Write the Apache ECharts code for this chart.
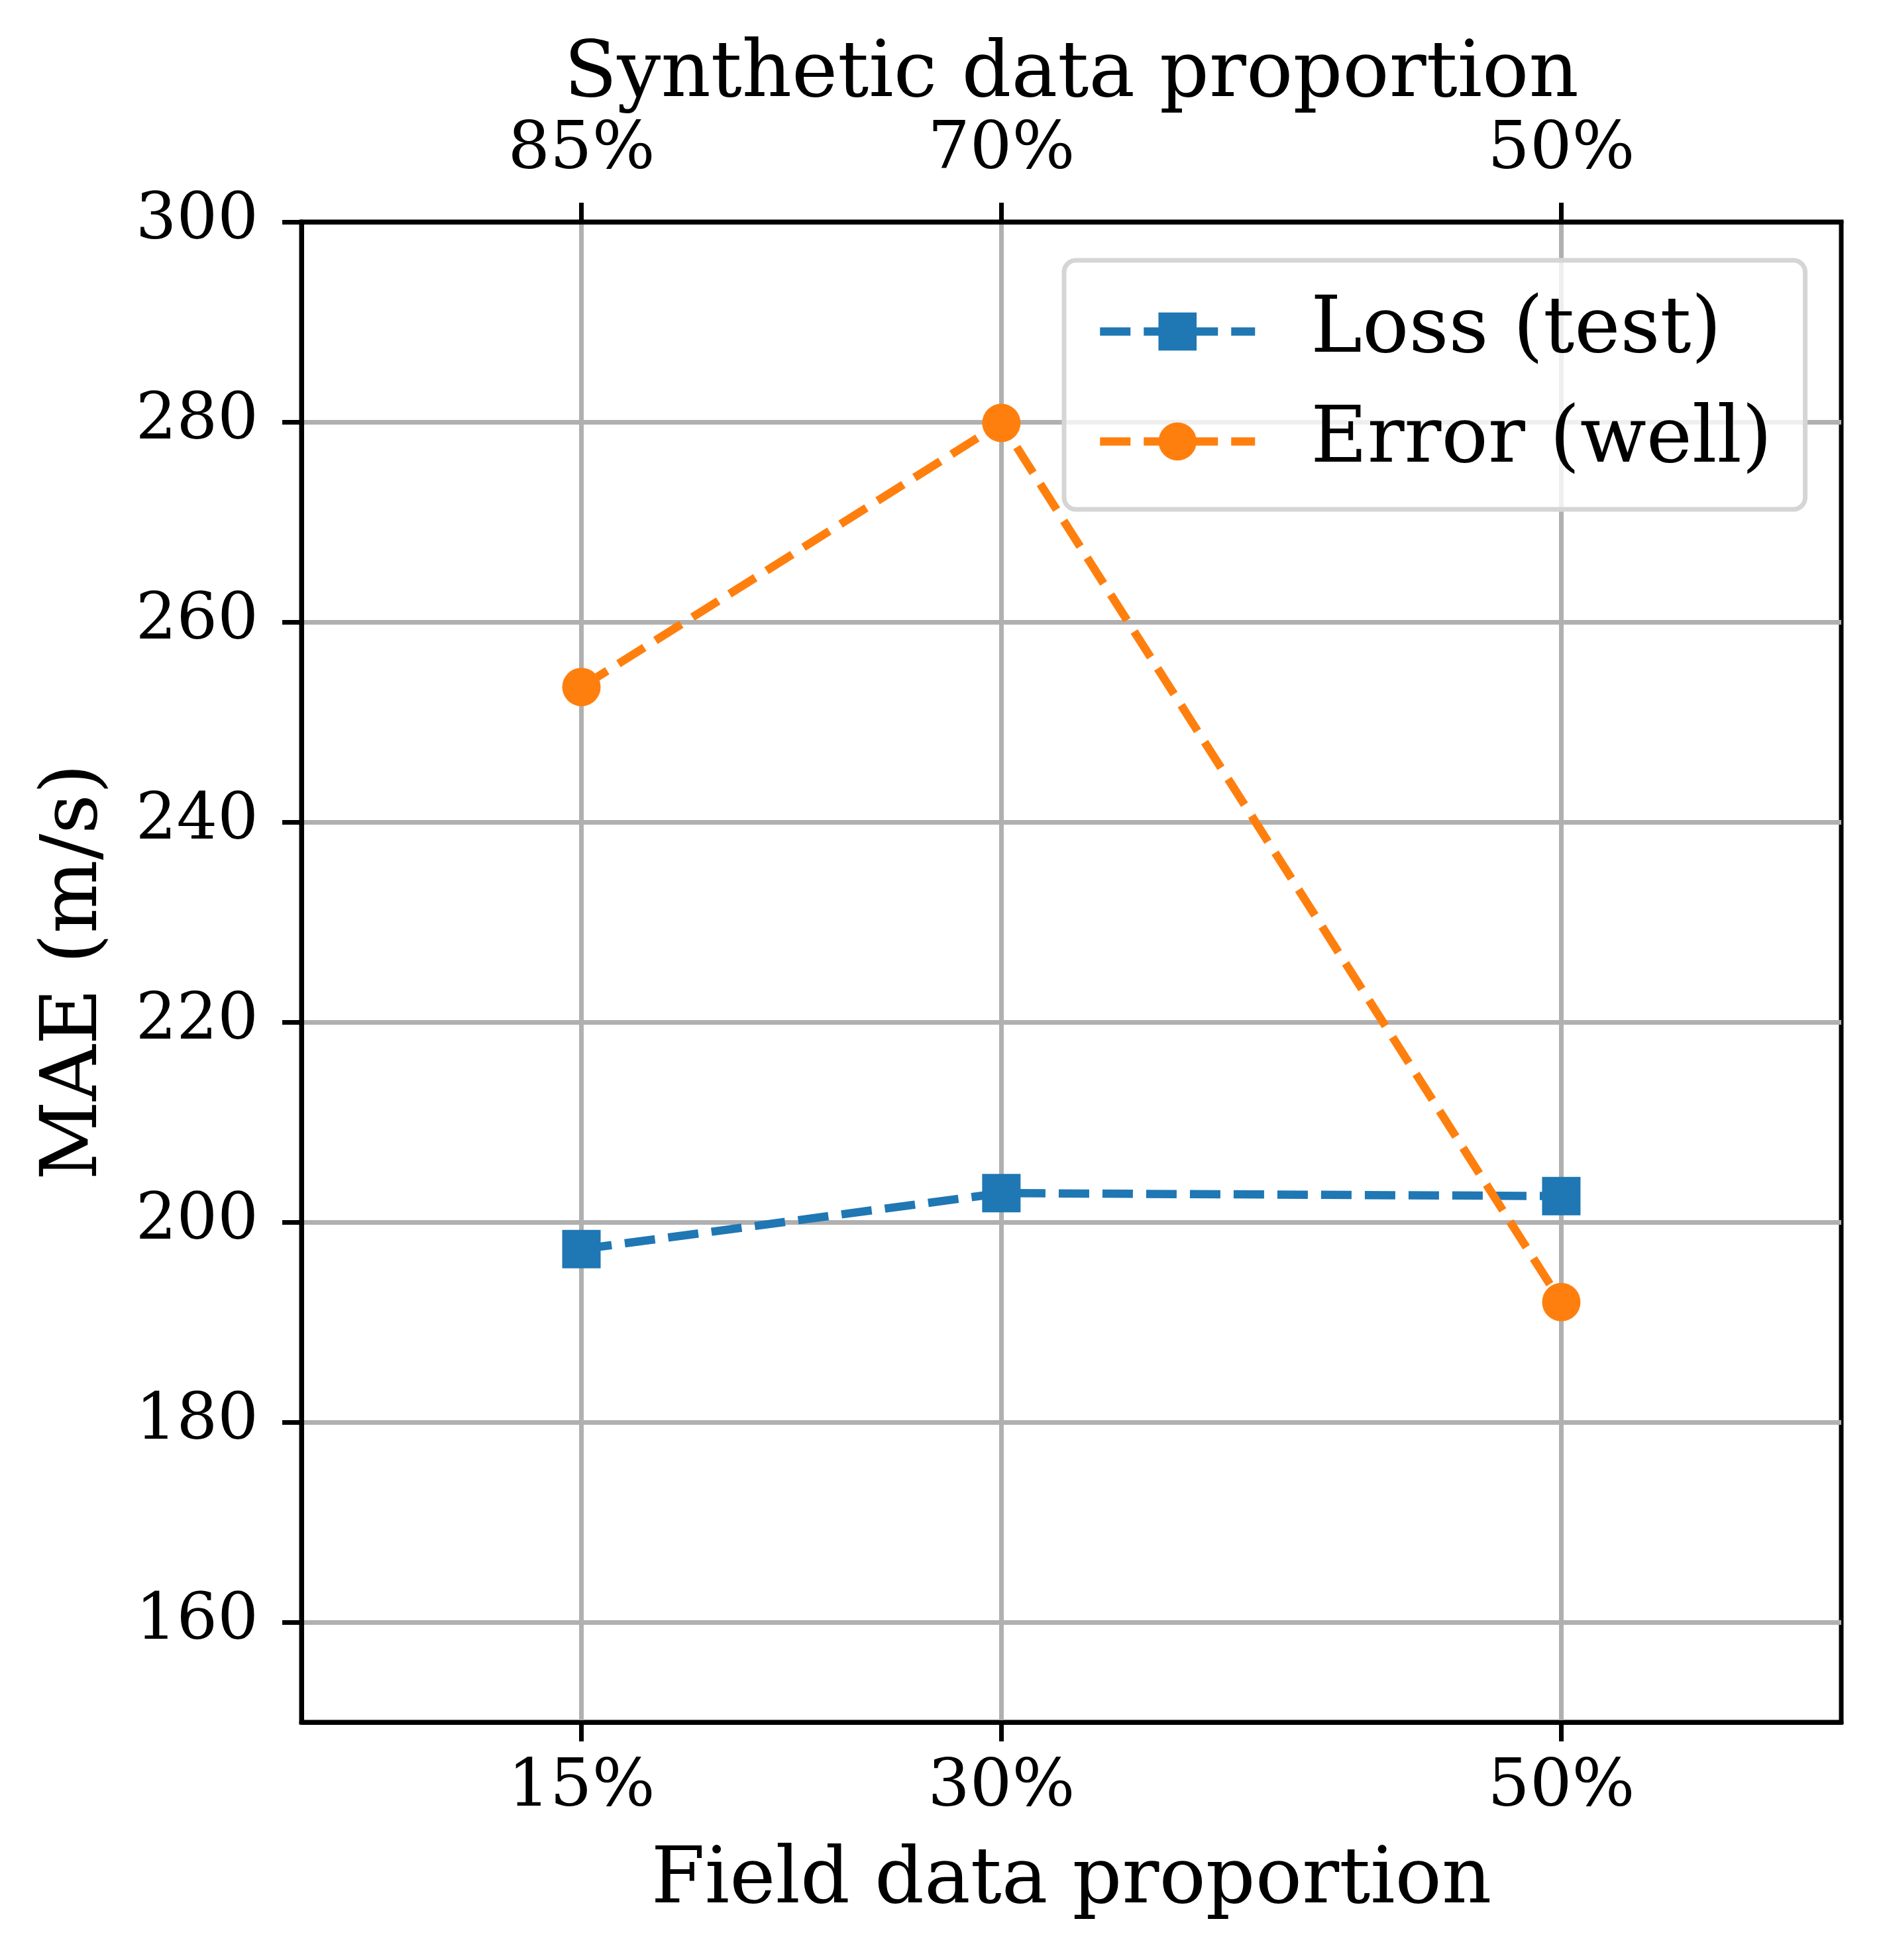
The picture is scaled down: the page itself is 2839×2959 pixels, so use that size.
<!DOCTYPE html>
<html>
<head>
<meta charset="utf-8">
<script src="https://cdn.jsdelivr.net/npm/echarts@6/dist/echarts.min.js"></script>
<style>
  html, body { margin: 0; padding: 0; background: #ffffff; }
  #chart { width: 2839px; height: 2959px; }
</style>
</head>
<body>
<div id="chart"></div>
<script>
// ---- data ----
const fieldProportion = [15, 30, 50];           // bottom axis (Field data proportion, %)
const syntheticLabels = ['85%', '70%', '50%'];  // top axis (Synthetic data proportion)
const lossTest = [197.3, 202.9, 202.6];         // Loss (test)
const errorWell = [253.5, 279.9, 192.0];        // Error (well)
const yTicks = [160, 180, 200, 220, 240, 260, 280, 300];
const xRange = [5, 60];
const yRange = [150, 300];

const FONT = 'DejaVu Serif';
const toPairs = (xs, ys) => xs.map((x, i) => [x, ys[i]]);

const chart = echarts.init(document.getElementById('chart'), null, { renderer: 'canvas' });

const axisLineStyle = { color: '#000000', width: 7 };
const tickStyle = { color: '#000000', width: 7 };
const DASH = [46, 20];

chart.setOption({
  backgroundColor: '#ffffff',
  animation: false,
  grid: {
    left: 455, right: 60, top: 335, bottom: 359,
    show: true, borderColor: '#000000', borderWidth: 7, backgroundColor: 'transparent'
  },
  legend: {
    orient: 'vertical',
    left: 1606, top: 393,
    itemWidth: 234, itemHeight: 72,
    itemGap: 49,
    padding: [49, 50, 44, 48],
    backgroundColor: 'rgba(255,255,255,0.8)',
    borderColor: '#d5d5d5', borderWidth: 7, borderRadius: 18,
    lineStyle: { width: 12.5, type: DASH },
    textStyle: { fontFamily: FONT, fontSize: 117, color: '#000000', padding: [0, 0, 0, 79] },
    data: ['Loss (test)', 'Error (well)']
  },
  xAxis: [
    {
      type: 'value', position: 'bottom', min: xRange[0], max: xRange[1],
      name: 'Field data proportion', nameLocation: 'middle', nameGap: 183,
      nameTextStyle: { fontFamily: FONT, fontSize: 117, color: '#000000' },
      axisLine: { show: true, lineStyle: axisLineStyle },
      axisTick: { show: true, length: 29, lineStyle: tickStyle, customValues: fieldProportion },
      axisLabel: { fontFamily: FONT, fontSize: 100, color: '#000000', margin: 50,
                   customValues: fieldProportion, formatter: v => v + '%' },
      splitLine: { show: true, lineStyle: { color: '#b0b0b0', width: 7 } }
    },
    {
      type: 'value', position: 'top', min: xRange[0], max: xRange[1],
      name: 'Synthetic data proportion', nameLocation: 'middle', nameGap: 158,
      nameTextStyle: { fontFamily: FONT, fontSize: 117, color: '#000000' },
      axisLine: { show: true, lineStyle: axisLineStyle },
      axisTick: { show: true, length: 29, lineStyle: tickStyle, customValues: fieldProportion },
      axisLabel: { fontFamily: FONT, fontSize: 100, color: '#000000', margin: 57,
                   customValues: fieldProportion,
                   formatter: v => { const i = fieldProportion.indexOf(v); return i >= 0 ? syntheticLabels[i] : ''; } },
      splitLine: { show: false }
    }
  ],
  yAxis: {
    type: 'value', min: yRange[0], max: yRange[1],
    name: 'MAE (m/s)', nameLocation: 'middle', nameGap: 282,
    nameTextStyle: { fontFamily: FONT, fontSize: 117, color: '#000000' },
    axisLine: { show: true, lineStyle: axisLineStyle },
    axisTick: { show: true, length: 29, lineStyle: tickStyle, customValues: yTicks },
    axisLabel: { fontFamily: FONT, fontSize: 97, color: '#000000', margin: 65, customValues: yTicks },
    splitLine: { show: true, lineStyle: { color: '#b0b0b0', width: 7 } }
  },
  series: [
    {
      name: 'Loss (test)', type: 'line', xAxisIndex: 0,
      data: toPairs(fieldProportion, lossTest),
      symbol: 'rect', symbolSize: 58,
      lineStyle: { color: '#1f77b4', width: 12.5, type: DASH },
      itemStyle: { color: '#1f77b4' }
    },
    {
      name: 'Error (well)', type: 'line', xAxisIndex: 0,
      data: toPairs(fieldProportion, errorWell),
      symbol: 'circle', symbolSize: 58,
      lineStyle: { color: '#ff7f0e', width: 12.5, type: DASH },
      itemStyle: { color: '#ff7f0e' }
    }
  ]
});
</script>
</body>
</html>
